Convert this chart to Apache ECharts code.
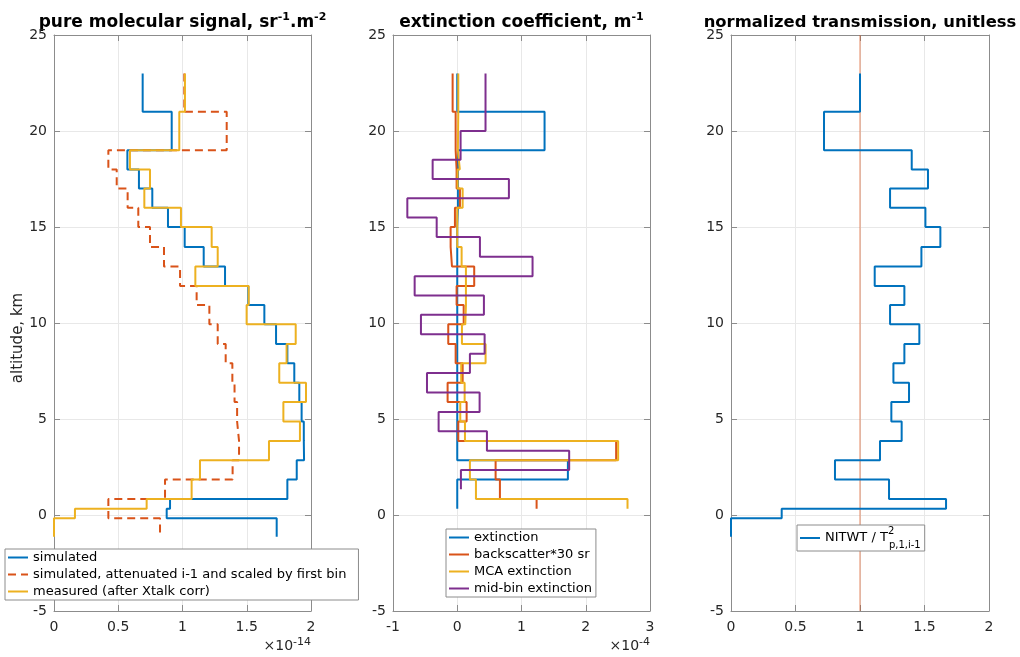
<!DOCTYPE html>
<html>
<head>
<meta charset="utf-8">
<title>Molecular signal, extinction and transmission profiles</title>
<script src="https://cdn.jsdelivr.net/npm/echarts@6/dist/echarts.min.js"></script>
<style>
  html, body { margin: 0; padding: 0; background: #fff; }
  #chart { width: 1020px; height: 657px; }
</style>
</head>
<body>
<div id="chart"></div>
<script>
// Range-bin edges (altitude, km), top to bottom
const ALT_EDGES = [23, 21, 19, 18, 17, 16, 15, 13.96, 12.94, 11.93, 10.94, 9.93, 8.91, 7.9, 6.89, 5.88, 4.87, 3.86, 2.85, 1.85, 0.83, 0.33, -0.17, -1.13];
// Mid-bin edges used by the mid-bin extinction estimate
const MID_EDGES = [23, 20, 18.5, 17.5, 16.5, 15.5, 14.48, 13.45, 12.44, 11.43, 10.43, 9.42, 8.4, 7.39, 6.38, 5.37, 4.36, 3.35, 2.35, 1.34];

// Pure molecular signal, units of 1e-14 sr^-1.m^-2
const simulated = [0.690, 0.916, 0.571, 0.661, 0.765, 0.887, 1.017, 1.165, 1.331, 1.512, 1.637, 1.728, 1.816, 1.870, 1.909, 1.927, 1.944, 1.946, 1.889, 1.816, 0.903, 0.877, 1.733];
const simulatedAttenuated = [1.014, 1.344, 0.423, 0.488, 0.573, 0.656, 0.747, 0.856, 0.981, 1.110, 1.209, 1.274, 1.336, 1.388, 1.405, 1.425, 1.440, 1.440, 1.390, 0.864, 0.423, 0.423, 0.825];
const measured = [1.019, 0.975, 0.591, 0.747, 0.703, 0.988, 1.227, 1.274, 1.100, 1.515, 1.499, 1.881, 1.810, 1.753, 1.961, 1.785, 1.914, 1.673, 1.136, 1.071, 0.721, 0.163, 0.0];

// Extinction coefficient, units of 1e-4 m^-1
const extinction = [0.0, 1.359, 0.01, 0.01, 0.01, 0.0, 0.0, 0.0, 0.0, 0.0, 0.0, 0.0, 0.0, 0.0, 0.0, 0.0, 0.0, 0.0, 1.722, 0.0, 0.0];
const backscatter30 = [-0.072, -0.025, -0.01, -0.01, 0.042, -0.036, -0.103, -0.082, 0.264, -0.01, 0.10, -0.14, -0.025, 0.084, -0.15, 0.146, 0.016, 2.473, 0.597, 0.664, 1.235];
const mcaExtinction = [0.016, 0.01, 0.04, 0.005, 0.084, 0.0, 0.0, 0.068, 0.135, 0.135, 0.125, 0.073, 0.441, 0.062, 0.115, 0.047, 0.12, 2.504, 0.197, 0.291, 2.65];
const midBinExtinction = [0.44, 0.052, -0.383, 0.804, -0.777, -0.32, 0.353, 1.172, -0.663, 0.415, -0.565, 0.426, 0.197, -0.471, 0.348, -0.29, 0.462, 1.742, 0.057];

// Normalized transmission (unitless)
const nitwtRatio = [1.0, 0.721, 1.401, 1.527, 1.233, 1.507, 1.623, 1.476, 1.114, 1.344, 1.233, 1.460, 1.344, 1.259, 1.380, 1.243, 1.323, 1.155, 0.806, 1.225, 1.667, 0.393, 0.0];
const unityLevel = 1;

// Axis ranges and tick spacing
const ALT_RANGE = { min: -5, max: 25, interval: 5 };
const SIGNAL_RANGE = { min: 0, max: 2, interval: 0.5 };
const EXT_RANGE = { min: -1, max: 3, interval: 1 };
const TRANS_RANGE = { min: 0, max: 2, interval: 0.5 };

const FONT = 'DejaVu Sans';
const AXIS_COLOR = '#8c8c8c';
const TEXT_COLOR = '#262626';
const GRID_COLOR = '#e8e8e8';

const C_BLUE = '#0072BD', C_ORANGE = '#D95319', C_YELLOW = '#EDB120', C_PURPLE = '#7E2F8E';

// Turn per-bin values into a vertical stair profile: each bin is a
// vertical segment spanning its two edges, joined by horizontal steps.
function stairs(edges, values) {
  const pts = [];
  values.forEach((v, i) => {
    pts.push([v, edges[i]]);
    pts.push([v, edges[i + 1]]);
  });
  return pts;
}

const grids = [
  { left: 54, top: 35, width: 257, height: 576 },
  { left: 393, top: 35, width: 257, height: 576 },
  { left: 731, top: 35, width: 258, height: 576 }
];

function xAxisOf(gridIndex, range, pos) {
  const main = pos === 'bottom';
  return {
    type: 'value', gridIndex, position: pos,
    min: range.min, max: range.max, interval: range.interval,
    axisLine: { show: true, onZero: false, lineStyle: { color: AXIS_COLOR, width: 1 } },
    axisTick: { show: true, inside: true, length: 6, lineStyle: { color: AXIS_COLOR } },
    axisLabel: { show: main, color: TEXT_COLOR, fontSize: 14, fontFamily: FONT, margin: 9 },
    splitLine: { show: main, lineStyle: { color: GRID_COLOR, width: 1 } }
  };
}
function yAxisOf(gridIndex, range, pos) {
  const main = pos === 'left';
  return {
    type: 'value', gridIndex, position: pos,
    min: range.min, max: range.max, interval: range.interval,
    axisLine: { show: true, onZero: false, lineStyle: { color: AXIS_COLOR, width: 1 } },
    axisTick: { show: true, inside: true, length: 6, lineStyle: { color: AXIS_COLOR } },
    axisLabel: { show: main, color: TEXT_COLOR, fontSize: 14, fontFamily: FONT, margin: 7 },
    splitLine: { show: main, lineStyle: { color: GRID_COLOR, width: 1 } }
  };
}

const xRanges = [SIGNAL_RANGE, EXT_RANGE, TRANS_RANGE];
const xAxes = [];
const yAxes = [];
// indices 0..2: bottom / left axes; 3..5: mirrored top / right axes
xRanges.forEach((r, i) => xAxes.push(xAxisOf(i, r, 'bottom')));
xRanges.forEach((r, i) => xAxes.push(xAxisOf(i, r, 'top')));
xRanges.forEach((r, i) => yAxes.push(yAxisOf(i, ALT_RANGE, 'left')));
xRanges.forEach((r, i) => yAxes.push(yAxisOf(i, ALT_RANGE, 'right')));

function profile(name, panel, edges, values, color, dash) {
  return {
    name, type: 'line', xAxisIndex: panel, yAxisIndex: panel,
    data: stairs(edges, values),
    symbol: 'none', showSymbol: false, animation: false, silent: true,
    lineStyle: { color, width: 2, type: dash || 'solid' },
    itemStyle: { color }
  };
}

const series = [
  profile('simulated', 0, ALT_EDGES, simulated, C_BLUE),
  profile('simulated, attenuated i-1 and scaled by first bin', 0, ALT_EDGES, simulatedAttenuated, C_ORANGE, [8, 5]),
  profile('measured (after Xtalk corr)', 0, ALT_EDGES, measured, C_YELLOW),

  profile('extinction', 1, ALT_EDGES, extinction, C_BLUE),
  profile('backscatter*30 sr', 1, ALT_EDGES, backscatter30, C_ORANGE),
  profile('MCA extinction', 1, ALT_EDGES, mcaExtinction, C_YELLOW),
  profile('mid-bin extinction', 1, MID_EDGES, midBinExtinction, C_PURPLE),

  {
    name: 'unity', type: 'line', xAxisIndex: 2, yAxisIndex: 2,
    data: [[unityLevel, ALT_RANGE.min], [unityLevel, ALT_RANGE.max]],
    symbol: 'none', animation: false, silent: true,
    lineStyle: { color: 'rgba(217,83,25,0.45)', width: 1.5 }
  },
  profile('NITWT', 2, ALT_EDGES, nitwtRatio, C_BLUE)
];

// Legend keys show only the line sample (the marker is hidden)
const legendBase = {
  orient: 'vertical', selectedMode: false,
  backgroundColor: '#fff', borderColor: AXIS_COLOR, borderWidth: 1, borderRadius: 0,
  itemWidth: 20, itemHeight: 13, itemGap: 4,
  padding: [2, 4, 2, 2],
  itemStyle: { opacity: 0 },
  lineStyle: { opacity: 1 },
  textStyle: { color: '#000', fontSize: 13, fontFamily: FONT, lineHeight: 13 }
};

const legends = [
  Object.assign({}, legendBase, {
    left: 5, top: 549, padding: [2, 12, 2, 2],
    data: ['simulated', 'simulated, attenuated i-1 and scaled by first bin', 'measured (after Xtalk corr)']
  }),
  Object.assign({}, legendBase, {
    left: 446, top: 529,
    data: ['extinction', 'backscatter*30 sr', 'MCA extinction', 'mid-bin extinction']
  }),
  Object.assign({}, legendBase, {
    left: 797, top: 525, itemHeight: 26, padding: [1, 4, 1, 2],
    data: ['NITWT'],
    formatter: () => 'NITWT / T{sup|2}{sub|p,1,i-1}',
    textStyle: {
      color: '#000', fontSize: 13, fontFamily: FONT, lineHeight: 24,
      rich: {
        sup: { fontSize: 10, fontFamily: FONT, color: '#000', verticalAlign: 'top', lineHeight: 10, width: 1 },
        sub: { fontSize: 10, fontFamily: FONT, color: '#000', verticalAlign: 'bottom', lineHeight: 10 }
      }
    }
  })
];

function titleText(x, text, size) {
  return {
    type: 'text', x, y: 23, silent: true,
    style: {
      text, align: 'center', verticalAlign: 'middle',
      fontSize: size, fontWeight: 'bold', fontFamily: FONT, fill: '#000', lineHeight: 22,
      rich: {
        sup: { fontSize: 11, fontWeight: 'bold', fontFamily: FONT, fill: '#000', verticalAlign: 'top', lineHeight: 10 }
      }
    }
  };
}
function exponentText(x, text) {
  return {
    type: 'text', x, y: 646, silent: true,
    style: {
      text, align: 'right', verticalAlign: 'middle',
      fontSize: 14, fontFamily: FONT, fill: TEXT_COLOR, lineHeight: 18,
      rich: {
        sup: { fontSize: 11, fontFamily: FONT, fill: TEXT_COLOR, verticalAlign: 'top', lineHeight: 8 }
      }
    }
  };
}

const graphic = [
  titleText(182.5, 'pure molecular signal, sr{sup|-1}.m{sup|-2}', 17),
  titleText(521.5, 'extinction coefficient, m{sup|-1}', 17),
  titleText(860, 'normalized transmission, unitless', 16.4),
  exponentText(311, '×10{sup|-14}'),
  exponentText(650, '×10{sup|-4}'),
  {
    type: 'text', x: 18, y: 338, rotation: Math.PI / 2, silent: true,
    style: { text: 'altitude, km', align: 'center', verticalAlign: 'middle', fontSize: 15, fontFamily: FONT, fill: TEXT_COLOR }
  }
];

const chart = echarts.init(document.getElementById('chart'), null, { renderer: 'canvas' });
chart.setOption({
  animation: false,
  backgroundColor: '#fff',
  grid: grids,
  xAxis: xAxes,
  yAxis: yAxes,
  legend: legends,
  series,
  graphic
});
</script>
</body>
</html>
